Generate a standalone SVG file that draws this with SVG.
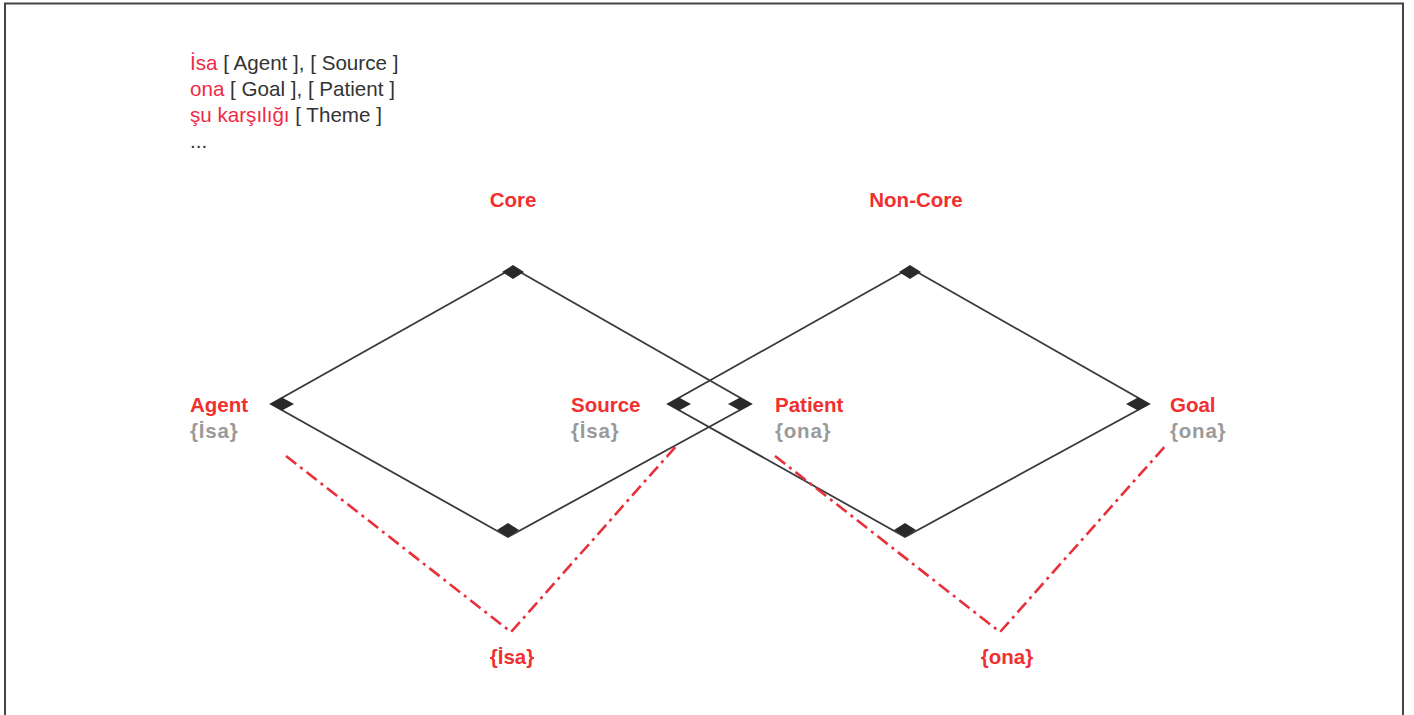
<svg xmlns="http://www.w3.org/2000/svg" width="1414" height="715" viewBox="0 0 1414 715">
  <style>
    .frame { fill: #fff; stroke: #444; stroke-width: 2; }
    .edge { fill: none; stroke: #3a3a3a; stroke-width: 1.8; }
    .knob { fill: #2a2a2a; }
    .bind { fill: none; stroke: #e8303a; stroke-width: 2.6; stroke-dasharray: 13 5 3 5; }
    .legend { font-family: "Liberation Sans", Arial, sans-serif; font-size: 20.6px; fill: #333; }
    .legend .hl { fill: #ee2a45; }
    .role { font-family: "Liberation Sans", Arial, sans-serif; font-size: 20.5px; font-weight: bold; fill: #f0302f; }
    .filler { font-family: "Liberation Sans", Arial, sans-serif; font-size: 20.5px; font-weight: bold; fill: #9a9a9a; letter-spacing: 0.8px; }
    .mid { text-anchor: middle; }
  </style>

  <rect class="frame" x="5" y="3.5" width="1398" height="725"/>

  <!-- legend -->
  <g id="legend">
    <text class="legend" x="190" y="70"><tspan class="hl">İsa</tspan> [ Agent ], [ Source ]</text>
    <text class="legend" x="190" y="96"><tspan class="hl">ona</tspan> [ Goal ], [ Patient ]</text>
    <text class="legend" x="190" y="122"><tspan class="hl">şu karşılığı</tspan> [ Theme ]</text>
    <text class="legend" x="190" y="148">...</text>
  </g>

  <!-- connectors -->
  <g id="connectors">
    <polygon class="edge" points="513,268 751,404 508,537 271,404"/>
    <polygon class="edge" points="910,268 1149,404 905,537 668,404"/>
    <polyline class="bind" points="286,456 511,632 678,444"/>
    <polyline class="bind" points="775,456 1000,632 1167,444"/>
  </g>

  <!-- corner knobs -->
  <g id="knobs">
    <polygon class="knob" points="513,265 524,272 513,279 502,272"/>
    <polygon class="knob" points="270,404 282,397.5 294,404 282,410.5"/>
    <polygon class="knob" points="508,537 519,530 508,523 497,530"/>
    <polygon class="knob" points="752,404 740,397.5 728,404 740,410.5"/>
    <polygon class="knob" points="910,265 921,272 910,279 899,272"/>
    <polygon class="knob" points="667,404 679,397.5 691,404 679,410.5"/>
    <polygon class="knob" points="905,537 916,530 905,523 894,530"/>
    <polygon class="knob" points="1150,404 1138,397.5 1126,404 1138,410.5"/>
  </g>

  <g id="core">
    <text class="role mid" x="513" y="207">Core</text>
  </g>
  <g id="non-core">
    <text class="role mid" x="916" y="207">Non-Core</text>
  </g>

  <g id="agent">
    <text class="role" x="190" y="412">Agent</text>
    <text class="filler" x="190" y="438">{İsa}</text>
  </g>
  <g id="source">
    <text class="role" x="571" y="412">Source</text>
    <text class="filler" x="571" y="438">{İsa}</text>
  </g>
  <g id="patient">
    <text class="role" x="775" y="412">Patient</text>
    <text class="filler" x="775" y="438">{ona}</text>
  </g>
  <g id="goal">
    <text class="role" x="1170" y="412">Goal</text>
    <text class="filler" x="1170" y="438">{ona}</text>
  </g>

  <g id="isa">
    <text class="role mid" x="512" y="664">{İsa}</text>
  </g>
  <g id="ona">
    <text class="role mid" x="1007" y="664">{ona}</text>
  </g>
</svg>
